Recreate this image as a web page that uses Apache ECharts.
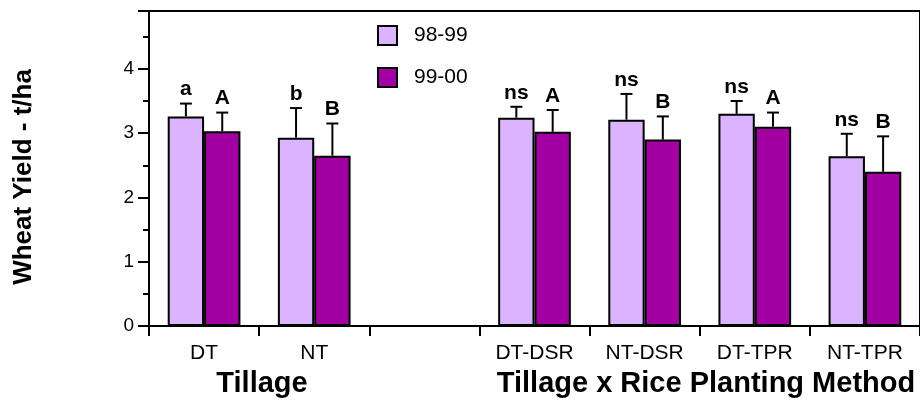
<!DOCTYPE html>
<html>
<head>
<meta charset="utf-8">
<title>Wheat Yield</title>
<script src="https://cdn.jsdelivr.net/npm/echarts@6/dist/echarts.min.js"></script>
<style>
  html, body { margin: 0; padding: 0; background: #fff; }
  #chart { width: 920px; height: 401px; }
</style>
</head>
<body>
<div id="chart"></div>
<script>
// Treatments: tillage alone, a blank spacer, then tillage x rice planting method
const categories = ['DT', 'NT', '', 'DT-DSR', 'NT-DSR', 'DT-TPR', 'NT-TPR'];
const seasons = ['98-99', '99-00'];

// Mean wheat yield (t/ha) per season
const yield9899 = [3.26, 2.93, null, 3.24, 3.21, 3.30, 2.64];
const yield9900 = [3.03, 2.65, null, 3.02, 2.90, 3.10, 2.40];

// Upper error bar lengths (t/ha)
const err9899 = [0.20, 0.46, null, 0.17, 0.40, 0.20, 0.35];
const err9900 = [0.29, 0.50, null, 0.34, 0.36, 0.22, 0.55];

// Mean separation letters
const sig9899 = ['a', 'b', '', 'ns', 'ns', 'ns', 'ns'];
const sig9900 = ['A', 'B', '', 'A', 'B', 'A', 'B'];

const yTicks = [0, 1, 2, 3, 4];

const FONT = 'Liberation Sans, Arial, Helvetica, sans-serif';
const COLORS = ['#DAB4FF', '#A300A3'];
const BAR_FRAC = 0.33;

function errorSeries(values, errs, letters, side) {
  const data = values.map((v, i) => v == null ? [null, null, null] : [i, v, v + errs[i]]);
  return {
    type: 'custom',
    z: 5,
    silent: true,
    renderItem: function (params, api) {
      const i = api.value(0);
      const base = api.coord([i, api.value(1)]);
      const top = api.coord([i, api.value(2)]);
      const band = api.size([1, 0])[0];
      const x = base[0] + side * band * BAR_FRAC / 2;
      return {
        type: 'group',
        children: [
          { type: 'line', shape: { x1: x, y1: base[1], x2: x, y2: top[1] },
            style: { stroke: '#000', lineWidth: 2 } },
          { type: 'line', shape: { x1: x - 6, y1: top[1], x2: x + 6, y2: top[1] },
            style: { stroke: '#000', lineWidth: 2 } },
          { type: 'text', x: x, y: top[1] - 14,
            style: { text: letters[params.dataIndex], fill: '#000',
                     font: 'bold 21px ' + FONT, align: 'center', verticalAlign: 'middle' } }
        ]
      };
    },
    data: data
  };
}

const chart = echarts.init(document.getElementById('chart'), null, { renderer: 'canvas' });

chart.setOption({
  animation: false,
  backgroundColor: '#fff',
  textStyle: { fontFamily: FONT },
  grid: {
    left: 149, top: 11, width: 776, height: 315,
    show: true, borderColor: '#000', borderWidth: 2, backgroundColor: 'transparent'
  },
  legend: {
    orient: 'vertical',
    left: 372, top: 20,
    itemWidth: 19, itemHeight: 19, itemGap: 21,
    icon: 'rect',
    data: seasons,
    textStyle: { fontSize: 21, color: '#000', fontFamily: FONT, padding: [0, 0, 0, 12] }
  },
  xAxis: {
    type: 'category',
    data: categories,
    axisLine: { lineStyle: { color: '#000', width: 2 } },
    axisTick: { show: true, length: 10, lineStyle: { color: '#000', width: 2 } },
    axisLabel: { interval: 0, color: '#000', fontSize: 21, margin: 17, fontFamily: FONT },
    splitLine: { show: false }
  },
  yAxis: {
    type: 'value',
    min: 0, max: 4.9, interval: 1,
    axisLine: { show: true, lineStyle: { color: '#000', width: 2 } },
    axisTick: { show: true, length: 11, lineStyle: { color: '#000', width: 2 } },
    minorTick: { show: true, splitNumber: 2, length: 6, lineStyle: { color: '#000', width: 2 } },
    axisLabel: {
      color: '#000', fontSize: 19, margin: 15, fontFamily: FONT,
      formatter: v => (yTicks.indexOf(v) >= 0 ? String(v) : '')
    },
    splitLine: { show: false }
  },
  series: [
    {
      name: seasons[0], type: 'bar', data: yield9899,
      barWidth: (BAR_FRAC * 100) + '%', barGap: '0%',
      itemStyle: { color: COLORS[0], borderColor: '#000', borderWidth: 2 }
    },
    {
      name: seasons[1], type: 'bar', data: yield9900,
      barWidth: (BAR_FRAC * 100) + '%', barGap: '0%',
      itemStyle: { color: COLORS[1], borderColor: '#000', borderWidth: 2 }
    },
    errorSeries(yield9899, err9899, sig9899, -1),
    errorSeries(yield9900, err9900, sig9900, 1)
  ],
  graphic: [
    { type: 'text', x: 24, y: 177, rotation: Math.PI / 2,
      style: { text: 'Wheat Yield - t/ha', font: 'bold 26px ' + FONT, fill: '#000',
               align: 'center', verticalAlign: 'middle' } },
    { type: 'text', x: 262, y: 384,
      style: { text: 'Tillage', font: 'bold 29px ' + FONT, fill: '#000',
               align: 'center', verticalAlign: 'middle' } },
    { type: 'text', x: 706, y: 384,
      style: { text: 'Tillage x Rice Planting Method', font: 'bold 29px ' + FONT, fill: '#000',
               align: 'center', verticalAlign: 'middle' } }
  ]
});
</script>
</body>
</html>
